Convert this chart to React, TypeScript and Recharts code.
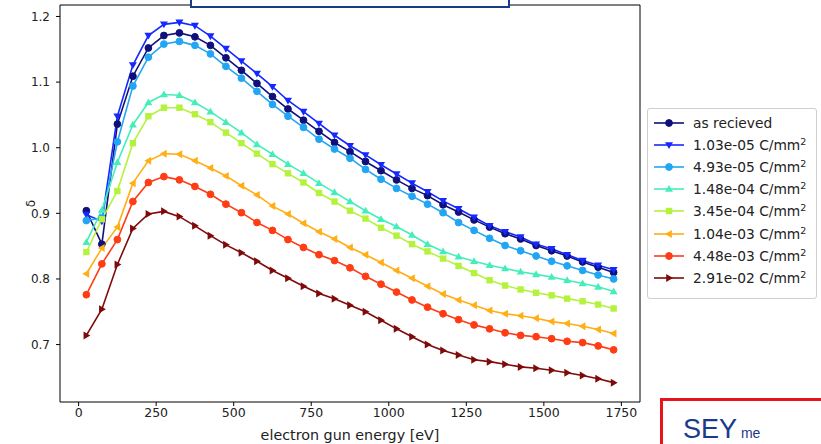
import React from "react"
import { LineChart, Line, XAxis, YAxis, ReferenceArea } from "recharts"

// electron gun energy [eV]
const energy = [
  25, 75, 125, 175, 225, 275, 325, 375, 425, 475, 525, 575, 625, 675, 725, 775, 825, 875,
  925, 975, 1025, 1075, 1125, 1175, 1225, 1275, 1325, 1375, 1425, 1475, 1525, 1575, 1625, 1675, 1725,
]

const asReceived = [
  0.904, 0.853, 1.036, 1.109, 1.152, 1.171, 1.175, 1.169, 1.156, 1.137, 1.118, 1.098, 1.078, 1.059,
  1.042, 1.025, 1.008, 0.994, 0.979, 0.965, 0.951, 0.938, 0.927, 0.913, 0.902, 0.890, 0.879, 0.869,
  0.861, 0.851, 0.843, 0.835, 0.826, 0.818, 0.810,
]
const dose103e05 = [
  0.898, 0.888, 1.048, 1.126, 1.171, 1.188, 1.191, 1.186, 1.170, 1.151, 1.132, 1.113, 1.093, 1.072,
  1.055, 1.037, 1.019, 1.003, 0.989, 0.974, 0.960, 0.946, 0.933, 0.919, 0.907, 0.894, 0.881, 0.872,
  0.864, 0.853, 0.846, 0.837, 0.828, 0.821, 0.814,
]
const dose493e05 = [
  0.889, 0.893, 1.009, 1.094, 1.138, 1.158, 1.162, 1.156, 1.143, 1.124, 1.106, 1.086, 1.066, 1.048,
  1.031, 1.013, 0.998, 0.984, 0.967, 0.952, 0.938, 0.926, 0.914, 0.901, 0.886, 0.874, 0.862, 0.851,
  0.843, 0.835, 0.827, 0.820, 0.813, 0.806, 0.800,
]
const dose148e04 = [
  0.856, 0.905, 0.978, 1.035, 1.069, 1.081, 1.080, 1.069, 1.055, 1.039, 1.023, 1.005, 0.990, 0.975,
  0.961, 0.946, 0.932, 0.918, 0.904, 0.891, 0.880, 0.867, 0.853, 0.842, 0.834, 0.827, 0.821, 0.816,
  0.811, 0.807, 0.803, 0.798, 0.793, 0.788, 0.781,
]
const dose345e04 = [
  0.841, 0.891, 0.934, 1.007, 1.048, 1.061, 1.061, 1.051, 1.039, 1.023, 1.007, 0.991, 0.975, 0.961,
  0.947, 0.931, 0.918, 0.904, 0.892, 0.878, 0.866, 0.853, 0.842, 0.831, 0.820, 0.809, 0.798, 0.790,
  0.784, 0.779, 0.775, 0.770, 0.766, 0.761, 0.755,
]
const dose104e03 = [
  0.808, 0.847, 0.879, 0.946, 0.980, 0.991, 0.990, 0.980, 0.969, 0.957, 0.942, 0.928, 0.911, 0.899,
  0.885, 0.872, 0.861, 0.848, 0.837, 0.825, 0.813, 0.801, 0.789, 0.777, 0.768, 0.760, 0.752, 0.747,
  0.744, 0.740, 0.735, 0.732, 0.728, 0.723, 0.717,
]
const dose448e03 = [
  0.776, 0.823, 0.860, 0.918, 0.947, 0.956, 0.951, 0.941, 0.929, 0.914, 0.901, 0.886, 0.874, 0.860,
  0.848, 0.837, 0.828, 0.817, 0.804, 0.792, 0.780, 0.768, 0.757, 0.747, 0.738, 0.730, 0.724, 0.718,
  0.714, 0.712, 0.709, 0.705, 0.703, 0.698, 0.692,
]
const dose291e02 = [
  0.714, 0.754, 0.822, 0.877, 0.899, 0.903, 0.895, 0.881, 0.866, 0.852, 0.840, 0.827, 0.813, 0.801,
  0.789, 0.778, 0.770, 0.760, 0.750, 0.737, 0.724, 0.712, 0.700, 0.691, 0.684, 0.677, 0.674, 0.670,
  0.666, 0.664, 0.661, 0.657, 0.653, 0.648, 0.642,
]

const xTicks = [0, 250, 500, 750, 1000, 1250, 1500, 1750]
const yTicks = [0.7, 0.8, 0.9, 1.0, 1.1, 1.2]

type Marker = "circle" | "down" | "up" | "square" | "left" | "right"

const series: { key: string; label: string; values: number[]; color: string; marker: Marker }[] = [
  { key: "s0", label: "as recieved", values: asReceived, color: "#10107a", marker: "circle" },
  { key: "s1", label: "1.03e-05", values: dose103e05, color: "#1428ff", marker: "down" },
  { key: "s2", label: "4.93e-05", values: dose493e05, color: "#22a6f4", marker: "circle" },
  { key: "s3", label: "1.48e-04", values: dose148e04, color: "#44eebb", marker: "up" },
  { key: "s4", label: "3.45e-04", values: dose345e04, color: "#b4f23c", marker: "square" },
  { key: "s5", label: "1.04e-03", values: dose104e03, color: "#ffae14", marker: "left" },
  { key: "s6", label: "4.48e-03", values: dose448e03, color: "#ff3c14", marker: "circle" },
  { key: "s7", label: "2.91e-02", values: dose291e02, color: "#7f0a0a", marker: "right" },
]

const data = energy.map((e, i) => {
  const row: Record<string, number> = { energy: e }
  series.forEach((s) => (row[s.key] = s.values[i]))
  return row
})

const FONT = "'DejaVu Sans', sans-serif"

function markerShape(m: Marker, cx: number, cy: number, color: string, key?: string | number) {
  const s = 4
  if (m === "circle") return <circle key={key} cx={cx} cy={cy} r={3.4} fill={color} stroke={color} />
  if (m === "square")
    return <rect key={key} x={cx - 3.2} y={cy - 3.2} width={6.4} height={6.4} fill={color} />
  let pts = ""
  if (m === "down") pts = `${cx - s},${cy - s * 0.7} ${cx + s},${cy - s * 0.7} ${cx},${cy + s}`
  if (m === "up") pts = `${cx - s},${cy + s * 0.7} ${cx + s},${cy + s * 0.7} ${cx},${cy - s}`
  if (m === "left") pts = `${cx + s * 0.7},${cy - s} ${cx + s * 0.7},${cy + s} ${cx - s},${cy}`
  if (m === "right") pts = `${cx - s * 0.7},${cy - s} ${cx - s * 0.7},${cy + s} ${cx + s},${cy}`
  return <polygon key={key} points={pts} fill={color} />
}

const makeDot = (m: Marker, color: string) => (props: any) => {
  const { cx, cy, index } = props
  if (cx == null || cy == null) return <g key={`d${index}`} />
  return markerShape(m, cx, cy, color, `d${index}`)
}

function LegendBox() {
  return (
    <div
      style={{
        position: "absolute", left: 647, top: 108, width: 170, height: 191,
        border: "1px solid #cfcfcf", borderRadius: 3, background: "#fff",
        boxSizing: "border-box", fontFamily: FONT, fontSize: 13.8, color: "#222",
      }}
    >
      {series.map((s, i) => (
        <div
          key={s.key}
          style={{ position: "absolute", left: 5, top: 4 + i * 22.1, height: 20, display: "flex", alignItems: "center", whiteSpace: "nowrap" }}
        >
          <svg width={32} height={12} style={{ marginRight: 8 }}>
            <line x1={1} y1={6} x2={31} y2={6} stroke={s.color} strokeWidth={1.6} />
            {markerShape(s.marker, 16, 6, s.color)}
          </svg>
          {i === 0 ? (
            <span>{s.label}</span>
          ) : (
            <span>
              {s.label} C/mm<sup style={{ fontSize: 9.5, verticalAlign: "top", lineHeight: "10px" }}>2</sup>
            </span>
          )}
        </div>
      ))}
    </div>
  )
}

export default function App() {
  return (
    <div style={{ position: "absolute", left: 0, top: 0, width: 821, height: 444, overflow: "hidden", background: "#fff" }}>
      <LineChart width={821} height={444} data={data} margin={{ top: 5, right: 181, bottom: 2, left: 10 }}>
        <XAxis
          dataKey="energy"
          type="number"
          domain={[-60, 1810]}
          ticks={xTicks}
          allowDataOverflow
          height={40}
          axisLine={false}
          tickSize={4}
          tickLine={{ stroke: "#000" }}
          tick={{ fontSize: 12.5, fill: "#222", fontFamily: FONT }}
          label={{ value: "electron gun energy [eV]", position: "insideBottom", offset: 2, fontSize: 14.3, fill: "#222", fontFamily: FONT }}
        />
        <YAxis
          type="number"
          domain={[0.6125, 1.2175]}
          ticks={yTicks}
          allowDataOverflow
          width={50}
          axisLine={false}
          tickSize={4}
          tickMargin={6}
          tickLine={{ stroke: "#000" }}
          tickFormatter={(v: number) => v.toFixed(1)}
          tick={{ fontSize: 12, fill: "#222", fontFamily: FONT }}
          label={{ value: "δ", angle: -90, position: "center", dx: -4, fontSize: 12, fill: "#222", fontFamily: FONT }}
        />
        {series.map((s) => (
          <Line
            key={s.key}
            dataKey={s.key}
            stroke={s.color}
            strokeWidth={1.6}
            dot={makeDot(s.marker, s.color)}
            activeDot={false}
            isAnimationActive={false}
          />
        ))}
        <ReferenceArea x1={-60} x2={1810} y1={0.6125} y2={1.2175} fill="none" stroke="#000" strokeWidth={1} ifOverflow="visible" />
      </LineChart>
      <LegendBox />
      {/* slide overlays */}
      <div style={{ position: "absolute", left: 190, top: -4, width: 320, height: 12, border: "2px solid #1b3a8a", background: "#fff", boxSizing: "border-box" }} />
      <div style={{ position: "absolute", left: 660, top: 398, width: 170, height: 60, border: "3px solid #e8141c", background: "#fff", boxSizing: "border-box" }}>
        <div style={{ position: "absolute", left: 20, top: 14, whiteSpace: "nowrap", color: "#1b3a8a", fontFamily: "'Liberation Sans', sans-serif", lineHeight: "28px" }}>
          <span style={{ fontSize: 27 }}>SEY</span>
          <span style={{ fontSize: 14 }}> me</span>
        </div>
      </div>
    </div>
  )
}
